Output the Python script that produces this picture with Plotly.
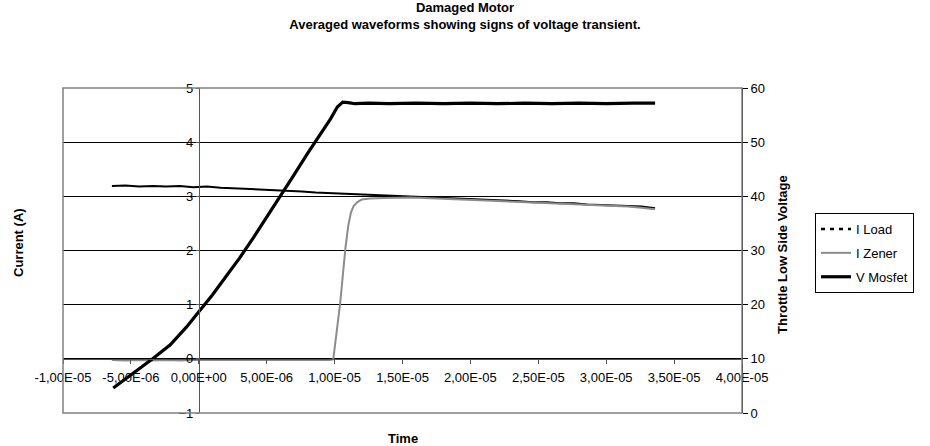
import plotly.graph_objects as go

# ---- data (time in microseconds) ----
t_load_us = [-6.4, -5.4, -4.4, -3.4, -2.4, -1.4, -0.4, 0.6, 1.6, 2.6, 3.6, 4.6, 5.6, 6.6,
             7.6, 8.6, 9.6, 10.6, 11.6, 12.6, 13.6, 14.6, 15.6, 16.6, 17.6, 18.6, 19.6,
             20.6, 21.6, 22.6, 23.6, 24.6, 25.6, 26.6, 27.6, 28.6, 29.6, 30.6, 31.6, 32.6, 33.6]
i_load = [3.19, 3.20, 3.18, 3.19, 3.18, 3.19, 3.17, 3.18, 3.16, 3.15, 3.14, 3.12, 3.11, 3.10,
          3.09, 3.07, 3.06, 3.05, 3.03, 3.03, 3.01, 3.00, 3.00, 2.99, 2.98, 2.97, 2.96,
          2.94, 2.94, 2.92, 2.91, 2.89, 2.89, 2.87, 2.87, 2.85, 2.84, 2.83, 2.82, 2.81, 2.78]

t_zener_us = [-6.4, -5.4, -4.4, -3.4, -2.4, -1.4, -0.4, 0.6, 1.6, 2.6, 3.6, 4.6, 5.6, 6.6,
              7.6, 8.6, 9.6, 9.9, 10.1, 10.3, 10.4, 10.6, 10.8, 11.0, 11.2, 11.4, 11.7, 12.0,
              12.6, 13.6, 14.6, 15.6, 16.6, 17.6, 18.6, 19.6, 20.6, 21.6, 22.6, 23.6, 24.6,
              25.6, 26.6, 27.6, 28.6, 29.6, 30.6, 31.6, 32.6, 33.6]
i_zener = [-0.02, -0.03, -0.02, -0.03, -0.02, -0.03, -0.02, -0.02, -0.03, -0.02, -0.03, -0.02,
           -0.03, -0.02, -0.02, -0.03, -0.02, -0.01, 0.35, 0.80, 1.00, 1.55, 2.05, 2.45, 2.70,
           2.82, 2.90, 2.94, 2.96, 2.97, 2.98, 2.98, 2.97, 2.96, 2.95, 2.94, 2.93, 2.92, 2.91,
           2.90, 2.89, 2.88, 2.87, 2.86, 2.85, 2.84, 2.82, 2.81, 2.79, 2.76]

t_mosfet_us = [-6.3, -5.5, -4.5, -3.4, -2.1, -0.9, 0.0, 1.0, 2.0, 3.0, 4.0, 5.0, 6.0, 7.0,
               8.0, 9.0, 9.7, 10.2, 10.6, 11.0, 11.5, 12.5, 14.0, 16.0, 18.0, 20.0, 22.0,
               24.0, 26.0, 28.0, 30.0, 32.0, 33.6]
v_mosfet = [4.6, 6.1, 7.9, 10.0, 12.6, 15.9, 18.7, 21.8, 25.2, 28.6, 32.3, 36.1, 39.9, 43.9,
            47.9, 51.7, 54.3, 56.5, 57.4, 57.3, 57.1, 57.2, 57.1, 57.2, 57.1, 57.2, 57.1,
            57.2, 57.1, 57.2, 57.1, 57.2, 57.2]

x_tickvals = [-1e-5, -5e-6, 0, 5e-6, 1e-5, 1.5e-5, 2e-5, 2.5e-5, 3e-5, 3.5e-5, 4e-5]
x_ticktext = ["-1,00E-05", "-5,00E-06", "0,00E+00", "5,00E-06", "1,00E-05", "1,50E-05",
              "2,00E-05", "2,50E-05", "3,00E-05", "3,50E-05", "4,00E-05"]
y_left_ticks = [-1, 0, 1, 2, 3, 4, 5]
y_right_ticks = [0, 10, 20, 30, 40, 50, 60]

US = 1e-6
FONT = "Liberation Sans, Arial, sans-serif"

fig = go.Figure()
fig.add_trace(go.Scatter(x=[t * US for t in t_load_us], y=i_load, mode="lines",
                         line=dict(color="black", width=2), name="I Load",
                         showlegend=False, legendgroup="load"))
fig.add_trace(go.Scatter(x=[None], y=[None], mode="lines", name="I Load",
                         line=dict(color="black", width=2.5, dash="4px,5px"),
                         legendgroup="load", legendrank=1))
fig.add_trace(go.Scatter(x=[t * US for t in t_zener_us], y=i_zener, mode="lines",
                         line=dict(color="#8c8c8c", width=2), name="I Zener",
                         legendgroup="zener", legendrank=2))
fig.add_trace(go.Scatter(x=[t * US for t in t_mosfet_us], y=v_mosfet, mode="lines",
                         line=dict(color="black", width=3.2), name="V Mosfet",
                         legendgroup="mosfet", yaxis="y2", legendrank=3))

fig.update_layout(
    width=930, height=446,
    margin=dict(l=63, r=188, t=88, b=33, pad=0),
    paper_bgcolor="white", plot_bgcolor="white",
    font=dict(family=FONT, size=13, color="black"),
    title=dict(text="<b>Damaged Motor</b><br><b>Averaged waveforms showing signs of voltage transient.</b>",
               x=0.5, xanchor="center", xref="container",
               y=1 - 12 / 446, yanchor="top", yref="container",
               font=dict(family=FONT, size=13, color="black")),
    xaxis=dict(range=[-1e-5, 4e-5], domain=[0, 1], anchor="free", position=1 / 6,
               showline=True, linecolor="#555555", linewidth=1,
               ticks="outside", ticklen=4, tickcolor="#555555",
               tickvals=x_tickvals, ticktext=x_ticktext, ticklabelstandoff=3,
               showgrid=False, zeroline=False, tickfont=dict(size=13)),
    yaxis=dict(range=[-1, 5], domain=[0, 1], anchor="free", position=0.2,
               showline=True, linecolor="#555555", linewidth=1,
               ticks="outside", ticklen=3, tickcolor="#555555",
               tickvals=y_left_ticks, showgrid=True, gridcolor="#000000", gridwidth=1,
               zeroline=False, tickfont=dict(size=13)),
    yaxis2=dict(range=[0, 60], overlaying="y", side="right", anchor="x",
                showline=True, linecolor="#000000", linewidth=1,
                ticks="outside", ticklen=5, tickcolor="#000000",
                tickvals=y_right_ticks, showgrid=False, zeroline=False,
                tickfont=dict(size=13)),
    legend=dict(x=(815 - 63) / 679, y=(413 - 213) / 325, xanchor="left", yanchor="top",
                bordercolor="black", borderwidth=1, bgcolor="white",
                font=dict(size=13), tracegroupgap=4, itemwidth=30,
                traceorder="grouped"),
    showlegend=True,
    annotations=[
        dict(text="<b>Current (A)</b>", xref="paper", yref="paper",
             x=(18 - 63) / 679, y=(413 - 243) / 325, textangle=-90, showarrow=False,
             font=dict(size=13), xanchor="center", yanchor="middle"),
        dict(text="<b>Time</b>", xref="paper", yref="paper",
             x=0.5, y=(413 - 438) / 325, showarrow=False,
             font=dict(size=13), xanchor="center", yanchor="middle"),
        dict(text="<b>Throttle Low Side Voltage</b>", xref="paper", yref="paper",
             x=(782 - 63) / 679, y=(413 - 255) / 325, textangle=-90, showarrow=False,
             font=dict(size=13), xanchor="center", yanchor="middle"),
    ],
    shapes=[dict(type="rect", xref="paper", yref="paper", x0=0, y0=0, x1=1, y1=1,
                 line=dict(color="#808080", width=1.5), layer="above")],
)

fig.write_html("out.html")
